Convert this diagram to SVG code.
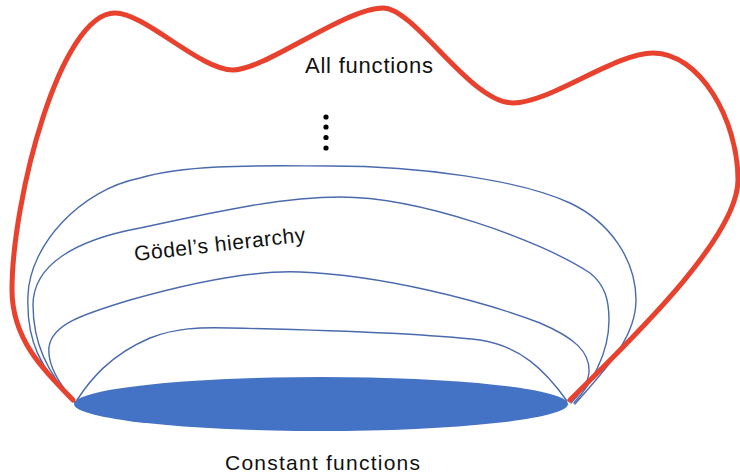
<svg xmlns="http://www.w3.org/2000/svg" width="740" height="475" viewBox="0 0 740 475">
  <style>
    .lbl { font-family: "Liberation Sans", "Open Sans", Arial, sans-serif; fill: #111111; }
    .level { fill: none; stroke: #4a6aae; stroke-width: 1.4; stroke-linecap: round; }
    .outer { fill: none; stroke: #e8412e; stroke-width: 5; stroke-linecap: round; stroke-linejoin: round; }
    .dot { fill: #000000; }
  </style>
  <rect x="0" y="0" width="740" height="475" fill="#ffffff"/>

  <g id="godel-hierarchy">
    <path class="level" d="M 75 402 C 40 370, 26 340, 28 295 C 30 245, 80 190, 140 178 C 190 163, 270 166, 330 166 C 420 166, 520 180, 570 203 C 610 222, 636 260, 636 300 C 636 340, 600 375, 575 404"/>
    <path class="level" d="M 75 402 C 45 372, 33 340, 33 305 C 33 265, 75 240, 140 228 C 210 213, 280 197, 340 197 C 420 197, 540 240, 590 273 C 605 285, 609 300, 609 320 C 609 355, 590 385, 574 403"/>
    <path class="level" d="M 75 402 C 60 385, 47 365, 49 347 C 52 325, 80 315, 130 300 C 190 283, 250 270, 300 272 C 380 275, 480 300, 540 323 C 575 338, 590 352, 589 372 C 588 385, 578 396, 571 403"/>
    <path class="level" d="M 77 400 C 90 380, 110 355, 150 338 C 175 328, 200 327, 230 328 C 320 330, 420 333, 480 340 C 520 346, 545 370, 567 401"/>
    <text class="lbl" x="135" y="261" font-size="21" textLength="172" transform="rotate(-6.5 135 261)">Gödel’s hierarchy</text>
  </g>

  <g id="constant-functions">
    <ellipse cx="321" cy="404" rx="247" ry="27" fill="#4472c4"/>
    <text class="lbl" x="225" y="470" font-size="21" textLength="195">Constant functions</text>
  </g>

  <g id="all-functions">
    <path class="outer" d="M 73 400 C 45 372, 12 340, 12 290 C 12 200, 60 13, 115 13 C 145 13, 200 70, 233 70 C 265 70, 345 8, 383 8 C 415 8, 470 103, 513 103 C 550 103, 615 53, 653 53 C 700 53, 738 120, 738 180 C 738 240, 620 350, 570 400"/>
    <text class="lbl" x="305" y="73" font-size="22" textLength="128">All functions</text>
  </g>

  <g id="ellipsis-dots">
    <circle class="dot" cx="326" cy="117" r="2.6"/>
    <circle class="dot" cx="326" cy="127" r="2.6"/>
    <circle class="dot" cx="326" cy="137.5" r="2.6"/>
    <circle class="dot" cx="326" cy="148" r="2.6"/>
  </g>

  <g id="connectors"></g>
</svg>
